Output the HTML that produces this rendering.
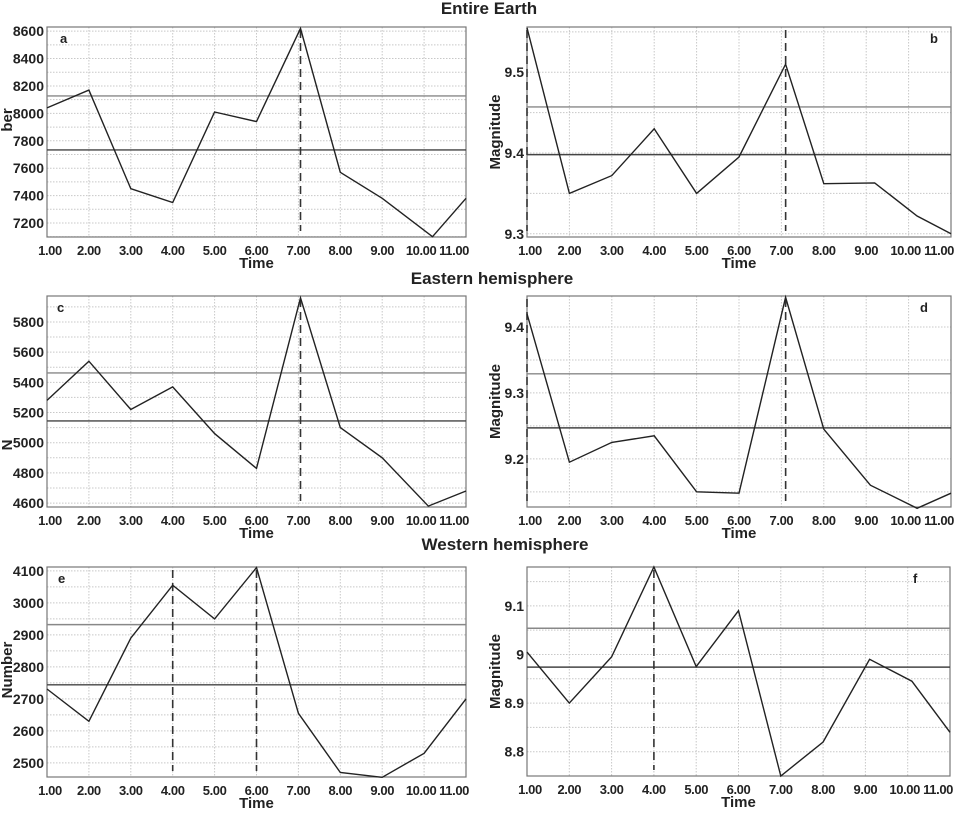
<!DOCTYPE html>
<html><head><meta charset="utf-8"><style>
body{margin:0;background:#fff;width:957px;height:810px;overflow:hidden;font-family:"Liberation Sans",Arial,sans-serif}
svg text{font-family:"Liberation Sans",Arial,sans-serif}
</style></head><body>
<svg id="c" width="957" height="810"></svg>
<script>
const times=[1,2,3,4,5,6,7,8,9,10,11];
const xTicks=["1.00","2.00","3.00","4.00","5.00","6.00","7.00","8.00","9.00","10.00","11.00"];
const aX=[1,2,3,4,5,6,7.05,8,9,10.2,11];
const aVals=[8040,8170,7450,7350,8010,7940,8620,7570,7380,7100,7380];
const aTicks=[7200,7400,7600,7800,8000,8200,8400,8600];
const aTickLabels=["7200","7400","7600","7800","8000","8200","8400","8600"];
const aHlines=[8127,7733];const aDashed=[7.05];
const bX=[1,2,3,4,5,6,7.1,8,9.2,10.2,11];
const bVals=[9.555,9.35,9.372,9.43,9.35,9.395,9.51,9.362,9.363,9.322,9.3];
const bTicks=[9.3,9.4,9.5];const bTickLabels=["9.3","9.4","9.5"];
const bHlines=[9.457,9.398];const bDashed=[1.0,7.1];
const cX=[1,2,3,4,5,6,7.05,8,9,10.1,11];
const cVals=[5280,5540,5220,5370,5060,4830,5960,5100,4900,4580,4680];
const cTicks=[4600,4800,5000,5200,5400,5600,5800];
const cTickLabels=["4600","4800","5000","5200","5400","5600","5800"];
const cHlines=[5462,5144];const cDashed=[7.05];
const dX=[1,2,3,4,5,6,7.1,8,9.1,10.2,11];
const dVals=[9.42,9.195,9.225,9.235,9.15,9.148,9.445,9.245,9.16,9.125,9.148];
const dTicks=[9.2,9.3,9.4];const dTickLabels=["9.2","9.3","9.4"];
const dHlines=[9.329,9.247];const dDashed=[1.0,7.1];
const eX=[1,2,3,4,5,6,7,8,9,10,11];
const eVals=[2731,2630,2890,3055,2950,3110,2655,2470,2455,2530,2700];
const eTicks=[2500,2600,2700,2800,2900,3000,3100];
const eTickLabels=["2500","2600","2700","2800","2900","3000","4100"];
const eHlines=[2932,2744];const eDashed=[4,6];
const fX=[1,2,3,4,5,6,7,8,9.1,10.1,11];
const fVals=[9.005,8.9,8.995,9.18,8.975,9.09,8.75,8.82,8.99,8.945,8.84];
const fTicks=[8.8,8.9,9.0,9.1];const fTickLabels=["8.8","8.9","9","9.1"];
const fHlines=[9.054,8.974];const fDashed=[4];

const NS="http://www.w3.org/2000/svg";
const svg=document.getElementById('c');
function mk(t,a,p){const e=document.createElementNS(NS,t);for(const k in a)e.setAttribute(k,a[k]);(p||svg).appendChild(e);return e;}
function txt(s,x,y,sz,w,anchor,p){const e=mk('text',{x:x,y:y,'font-size':sz,'font-weight':w||'bold','text-anchor':anchor||'middle',fill:'#222'},p);e.textContent=s;return e;}

function panel(id,L,R,T,B,ymin,ymax,xs,vals,ticks,tlabels,hl,dash,letter,lx,ytitle){
  const g=mk('g',{});
  
  
  const X=v=>L+(v-1)/10*(R-L);
  const Y=v=>B-(v-ymin)/(ymax-ymin)*(B-T);
  for(let i=1;i<=11;i++){mk('line',{x1:X(i),x2:X(i),y1:T,y2:B,stroke:'#c8c8c8','stroke-dasharray':'1.5,1.5'},g);}
  const st=ticks[1]-ticks[0];
  for(let v=ticks[0]-st;v<=ymax+1e-9;v+=st/2){if(v<ymin)continue;mk('line',{x1:L,x2:R,y1:Y(v),y2:Y(v),stroke:'#c8c8c8','stroke-dasharray':'1.5,1.5'},g);}
  mk('rect',{x:L,y:T,width:R-L,height:B-T,fill:'none',stroke:'#777','stroke-width':1.2},g);
  hl.forEach((h,i)=>{const l=mk('line',{x1:L,x2:R,y1:Y(h),y2:Y(h),stroke:i==0?'#888':'#444','stroke-width':1.4},g);
    });
  dash.forEach(d=>{const l=mk('line',{x1:X(d),x2:X(d),y1:T+3,y2:B-6,stroke:'#333','stroke-width':1.6,'stroke-dasharray':'8,5'},g);
    });
  const pts=xs.map((x,i)=>X(x).toFixed(1)+','+Y(vals[i]).toFixed(1)).join(' ');
  const pl=mk('polyline',{points:pts,fill:'none',stroke:'#222','stroke-width':1.4},g);
  
  ticks.forEach((t,i)=>{const e=txt(tlabels[i],L-3,Y(t)+5,14,'bold','end',g);});
  times.forEach((t,i)=>{const e=(i==10)?txt(xTicks[i],R+3,B+18,13,'bold','end',g):txt(xTicks[i],X(t)+(i==0?3:i==9?-3:0),B+18,13,'bold','middle',g);e.setAttribute('letter-spacing','-0.4');});
  const xt=txt('Time',(L+R)/2,B+31,15,'bold','middle',g);
  const le=mk('text',{x:lx,y:T+16,'font-size':13,'font-weight':'bold','font-family':'Liberation Serif',fill:'#222'},g);le.textContent=letter;
  
  if(ytitle){const cy=(T+B)/2;const yt=mk('text',{x:0,y:0,'font-size':15,'font-weight':'bold','text-anchor':'middle',fill:'#222',transform:'translate('+ytitle[1]+','+(ytitle[2]||cy)+') rotate(-90)'},g);yt.textContent=ytitle[0];
    }
}
panel('a',47,466,27,237,7098,8630,aX,aVals,aTicks,aTickLabels,aHlines,aDashed,'a',60,['ber',12,120]);
panel('b',527,951,27,237,9.296,9.556,bX,bVals,bTicks,bTickLabels,bHlines,bDashed,'b',930,['Magnitude',500]);
panel('c',47,466,296,507,4574,5972,cX,cVals,cTicks,cTickLabels,cHlines,cDashed,'c',57,['N',12,445]);
panel('d',527,951,296,507,9.127,9.447,dX,dVals,dTicks,dTickLabels,dHlines,dDashed,'d',920,['Magnitude',500]);
panel('e',47,466,567,777,2456,3112,eX,eVals,eTicks,eTickLabels,eHlines,eDashed,'e',58,['Number',12,670]);
panel('f',527,950,567,776,8.75,9.18,fX,fVals,fTicks,fTickLabels,fHlines,fDashed,'f',913,['Magnitude',500]);
[['Entire Earth',489,14],['Eastern hemisphere',492,284],['Western hemisphere',505,550]].forEach(t=>{
  const e=txt(t[0],t[1],t[2],17,'bold','middle');});
</script>
</body></html>
